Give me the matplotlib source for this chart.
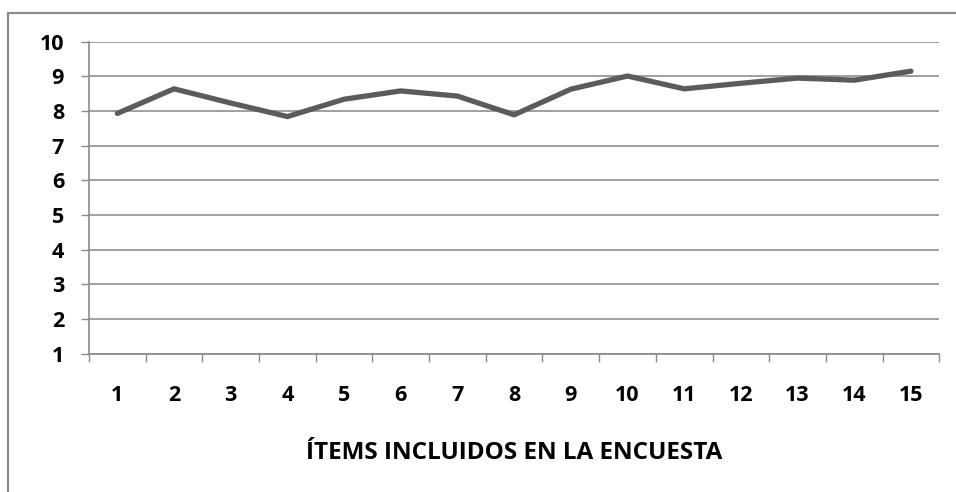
import matplotlib.pyplot as plt
from matplotlib.lines import Line2D

# Puntuación media por ítem de la encuesta
items = list(range(1, 15 + 1))
scores = [7.93, 8.64, 8.23, 7.84, 8.34, 8.58, 8.43, 7.89,
          8.63, 9.01, 8.64, 8.80, 8.95, 8.89, 9.15]
y_ticks = list(range(1, 11))
x_label = "ÍTEMS INCLUIDOS EN LA ENCUESTA"

plt.rcParams['font.family'] = ['Open Sans', 'DejaVu Sans']

fig = plt.figure(figsize=(9.56, 4.92), dpi=100)
ax = fig.add_axes([0.0931, 0.2815, 0.8894, 0.6337])

ax.plot(items, scores, color='#5b5b5b', linewidth=3.8, solid_capstyle='round',
        solid_joinstyle='miter', zorder=3)

ax.set_xlim(0.5, len(items) + 0.5)
ax.set_ylim(min(y_ticks), max(y_ticks))

# category boundaries carry the tick marks, centres carry the labels
ax.set_xticks([i + 0.5 for i in range(len(items) + 1)])
ax.set_xticklabels([])
ax.set_xticks(items, minor=True)
ax.set_xticklabels([str(i) for i in items], minor=True,
                   fontsize=15.5, fontweight='bold')
ax.tick_params(axis='x', which='major', length=6, width=1, color='#8a8a8a')
ax.tick_params(axis='x', which='minor', length=0, pad=23)

ax.set_yticks(y_ticks)
ax.set_yticklabels([str(v) for v in y_ticks], fontsize=15.5, fontweight='bold')
ax.tick_params(axis='y', length=6, width=1, color='#8a8a8a', pad=12)

ax.grid(axis='y', color='#8f8f8f', linewidth=1.2)
ax.set_axisbelow(True)
for side in ('top', 'right'):
    ax.spines[side].set_visible(False)
for side in ('left', 'bottom'):
    ax.spines[side].set_color('#8a8a8a')
    ax.spines[side].set_linewidth(1.2)

ax.set_xlabel(x_label, fontsize=17.5, fontweight='bold', labelpad=25)

# outer chart border (cropped at right and bottom)
fig.add_artist(Line2D([0.0084, 0.0084], [0.0, 0.9736], transform=fig.transFigure,
                      color='#8c8c8c', linewidth=1.6))
fig.add_artist(Line2D([0.0084, 1.0], [0.9736, 0.9736], transform=fig.transFigure,
                      color='#8c8c8c', linewidth=1.6))

plt.savefig('out.png', dpi=100)
